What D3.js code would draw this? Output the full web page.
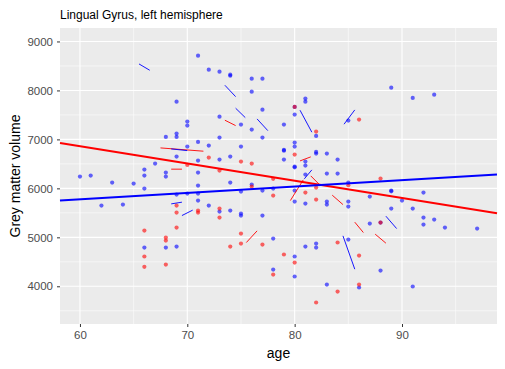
<!DOCTYPE html>
<html>
<head>
<meta charset="utf-8">
<script src="https://cdn.jsdelivr.net/npm/d3@7"></script>
<style>
body{margin:0;background:#fff;}
text{font-family:Arial,"Liberation Sans",sans-serif;}
</style>
</head>
<body>
<div class="main"></div>
<script>
var title='Lingual Gyrus, left hemisphere';
var xTicks=[60,70,80,90];
var yTicks=[4000,5000,6000,7000,8000,9000];

// blue group points
var blueAge=[71,72,73,74,74,76,77,76,69,77,73,70,70,75,79,76,81,81,80,82,68,69,69,73,77,71,72,75,80,80,79,79,82,82,83,70,69,67,79,73,74,71,81,80,80,81,66,66,68,68,60,61,71,81,83,89,91,93,85,84,84,63,65,66,69,70,62,64,66,68,69,71,74,76,71,75,77,78,71,72,73,74,75,75,77,78,80,80,81,83,83,81,82,82,78,80,80,83,85,89,89,92,85,85,87,90,89,91,87,92,92,93,94,97,85,88,86,91,80,88];
var blueVol=[8710,8424,8384,8322,8300,8241,8241,7975,7771,7608,7465,7363,7282,7302,7302,7200,7833,7771,7506,7071,7051,7118,7051,7037,7037,6949,6873,6853,6935,6853,6786,6770,6745,6710,6710,6853,6649,6506,6588,6588,6649,6567,6547,6445,6430,6465,6383,6261,6322,6241,6241,6261,6322,6281,6302,8057,7847,7914,7384,6588,6302,6118,6098,5996,5873,5894,5649,5669,4791,4791,4812,6057,6118,6077,5894,5934,5955,5996,5751,5649,5526,5547,5485,5444,5444,4975,5955,5730,5689,5730,5669,4812,4873,4791,4342,4608,4200,4036,6118,5955,5940,5914,5730,5628,5832,5751,5587,5587,5281,5404,5261,5363,5200,5179,4955,4322,3975,3996,7663,5302];

// red group points
var redAge=[80,82,86,80,72,75,76,70,73,78,88,85,76,78,81,82,82,69,69,69,66,68,68,66,66,68,71,71,73,73,75,75,74,77,79,80,78,82,88,84,86,86,84];
var redVol=[7663,7159,7404,6690,6628,6547,6506,6479,6363,6194,6200,6065,6036,5853,5914,6016,5771,5649,5506,5200,5138,4996,4934,4608,4398,4444,5547,5506,5587,5404,5077,4873,4812,4853,4649,4485,4240,3669,5302,4894,4628,4036,3893];

// within-subject change segments: age1, vol1, age2, vol2
var blueSegAge1=[65.5,68.5,73.5,74.5,76.5,80.5,80.9,84.6,68.5,69.5,88.5,84.5];
var blueSegVol1=[8541,6806,8106,7637,7418,7596,6194,7310,5683,5445,5432,5030];
var blueSegAge2=[66.5,70.0,74.5,75.4,77.5,81.6,81.6,85.6,69.5,70.5,89.5,85.6];
var blueSegVol2=[8412,6771,7873,7445,7179,7147,6377,7602,5718,5555,5179,4350];

var redSegAge1=[67.5,73.5,68.5,80.5,79.6,81.5,83.5,85.6,87.5,75.5];
var redSegVol1=[6826,7392,6392,6561,5751,6255,5861,5310,5065,4894];
var redSegAge2=[71.5,74.5,69.5,81.5,80.8,82.4,84.5,86.4,88.5,76.5];
var redSegVol2=[6759,7282,6392,6643,6173,6057,5669,5098,4881,5132];

// fitted lines: intercept, slope
var redFit=[8978,-35.25];
var blueFit=[4993,13.04];

var W=505,H=369;
var margin={top:28,right:8,bottom:45,left:60};
var width=W-margin.left-margin.right;
var height=H-margin.top-margin.bottom;

var svg=d3.select('.main').append('svg')
    .attr('width',W).attr('height',H);

var x=d3.scaleLinear().domain([58.14,98.85]).range([margin.left,margin.left+width]);
var y=d3.scaleLinear().domain([3230,9275]).range([margin.top+height,margin.top]);

// panel
svg.append('rect')
    .attr('x',margin.left).attr('y',margin.top)
    .attr('width',width).attr('height',height)
    .attr('fill','#EBEBEB');

var grid=svg.append('g');
var xMinor=[65,75,85,95];
var yMinor=[3500,4500,5500,6500,7500,8500];
grid.selectAll('.xm').data(xMinor).enter().append('line')
    .attr('x1',d=>x(d)).attr('x2',d=>x(d))
    .attr('y1',margin.top).attr('y2',margin.top+height)
    .attr('stroke','#fff').attr('stroke-width',0.55);
grid.selectAll('.ym').data(yMinor).enter().append('line')
    .attr('y1',d=>y(d)).attr('y2',d=>y(d))
    .attr('x1',margin.left).attr('x2',margin.left+width)
    .attr('stroke','#fff').attr('stroke-width',0.55);
grid.selectAll('.xM').data(xTicks).enter().append('line')
    .attr('x1',d=>x(d)).attr('x2',d=>x(d))
    .attr('y1',margin.top).attr('y2',margin.top+height)
    .attr('stroke','#fff').attr('stroke-width',1.1);
grid.selectAll('.yM').data(yTicks).enter().append('line')
    .attr('y1',d=>y(d)).attr('y2',d=>y(d))
    .attr('x1',margin.left).attr('x2',margin.left+width)
    .attr('stroke','#fff').attr('stroke-width',1.1);

// axes
var xAxis=d3.axisBottom(x).tickValues(xTicks).tickSize(3).tickPadding(4).tickFormat(d3.format('d'));
var yAxis=d3.axisLeft(y).tickValues(yTicks).tickSize(3).tickPadding(4).tickFormat(d3.format('d'));
var gx=svg.append('g').attr('transform','translate(0,'+(margin.top+height)+')').call(xAxis);
var gy=svg.append('g').attr('transform','translate('+margin.left+',0)').call(yAxis);
[gx,gy].forEach(function(g){
  g.select('.domain').remove();
  g.selectAll('.tick line').attr('stroke','#333').attr('stroke-width',1);
  g.selectAll('.tick text').attr('fill','#4D4D4D').style('font-size','11.5px')
    .style('font-family','Arial,"Liberation Sans",sans-serif');
});

// points
function drawPoints(ages,vols,col){
  svg.append('g').selectAll('circle')
    .data(ages.map((a,i)=>[a,vols[i]]))
    .enter().append('circle')
    .attr('cx',d=>x(d[0])).attr('cy',d=>y(d[1]))
    .attr('r',2.1)
    .attr('fill',col).attr('fill-opacity',0.6);
}
drawPoints(blueAge,blueVol,'#0000FF');
drawPoints(redAge,redVol,'#FF0000');

// segments
function drawSegs(a1,v1,a2,v2,col){
  svg.append('g').selectAll('line')
    .data(a1.map((a,i)=>[a,v1[i],a2[i],v2[i]]))
    .enter().append('line')
    .attr('x1',d=>x(d[0])).attr('y1',d=>y(d[1]))
    .attr('x2',d=>x(d[2])).attr('y2',d=>y(d[3]))
    .attr('stroke',col).attr('stroke-width',0.9);
}
drawSegs(redSegAge1,redSegVol1,redSegAge2,redSegVol2,'#FF0000');
drawSegs(blueSegAge1,blueSegVol1,blueSegAge2,blueSegVol2,'#0000FF');

// fitted lines
function drawFit(fit,col){
  var dom=x.domain();
  svg.append('line')
    .attr('x1',x(dom[0])).attr('y1',y(fit[0]+fit[1]*dom[0]))
    .attr('x2',x(dom[1])).attr('y2',y(fit[0]+fit[1]*dom[1]))
    .attr('stroke',col).attr('stroke-width',2);
}
drawFit(redFit,'#FF0000');
drawFit(blueFit,'#0000FF');

// titles
svg.append('text').attr('x',60).attr('y',19)
    .style('font-size','12px').attr('fill','#000').text(title);
svg.append('text').attr('x',margin.left+width/2).attr('y',358)
    .attr('text-anchor','middle').style('font-size','14px').attr('fill','#000').text('age');
svg.append('text')
    .attr('transform','translate(20,'+(margin.top+height/2)+') rotate(-90)')
    .attr('text-anchor','middle').style('font-size','14px').attr('fill','#000')
    .text('Grey matter volume');
</script>
</body>
</html>
